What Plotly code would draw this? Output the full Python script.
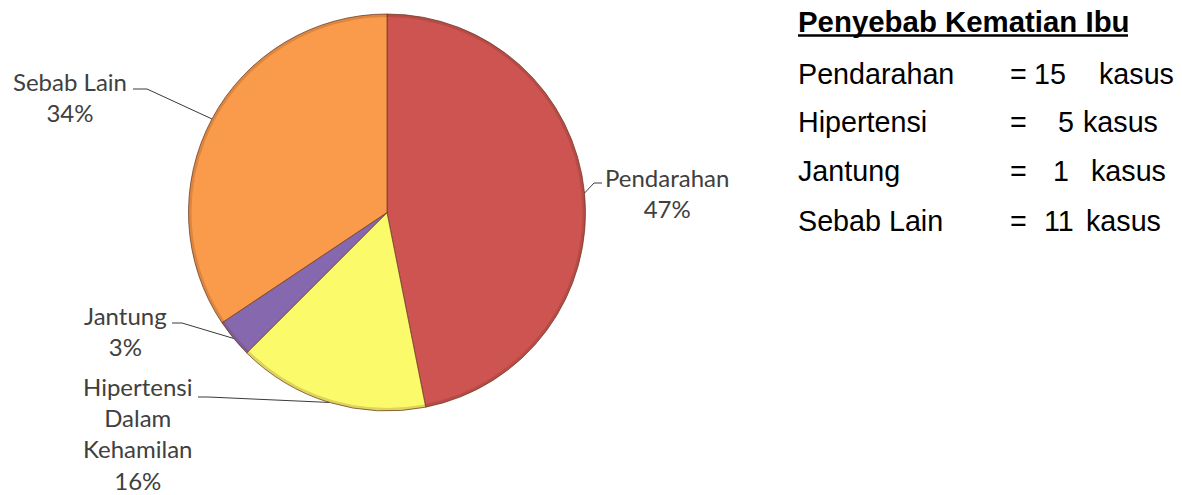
import math
import plotly.graph_objects as go

# ---------------- data ----------------
categories = ["Pendarahan", "Hipertensi Dalam Kehamilan", "Jantung", "Sebab Lain"]
label_text = ["Pendarahan", "Hipertensi<br>Dalam<br>Kehamilan", "Jantung", "Sebab Lain"]
short_names = ["Pendarahan", "Hipertensi", "Jantung", "Sebab Lain"]
kasus = [15, 5, 1, 11]
title_text = "Penyebab Kematian Ibu"
unit_text = "kasus"

# ---------------- styling / layout ----------------
colors = ["#CD5451", "#FAFA6B", "#8568AE", "#F99B4A"]
W, H = 1182, 495


def px(x):
    return x / W


def py(y):
    return 1 - y / H


PIE_L, PIE_R, PIE_T, PIE_B = 187, 587, 14, 411
cx = (PIE_L + PIE_R) / 2
cy = (PIE_T + PIE_B) / 2
rad = min(PIE_R - PIE_L, PIE_B - PIE_T) / 2

# label block centres, elbow and end of leader lines (pixels)
label_pos = [(667, 193.5), (137.5, 433), (125.5, 331), (69.5, 96.5)]
elbows = [(594, 183), (208, 397), (182, 323), (147, 89)]
ends = [(602, 183), (198, 397), (172, 323), (133, 89)]

# right-hand list layout
row_y = [74, 122, 171, 221]
name_x = 797
eq_x = 1009
num_x = [1033, 1057, 1052, 1043]
unit_x = [1098, 1082, 1090, 1085]

fig = go.Figure()
fig.add_trace(go.Pie(
    labels=categories,
    values=kasus,
    sort=False,
    direction="clockwise",
    rotation=0,
    textinfo="none",
    hoverinfo="label+value+percent",
    marker=dict(colors=colors, line=dict(color="rgba(110,60,40,0.75)", width=1)),
    domain=dict(x=[px(PIE_L), px(PIE_R)], y=[py(PIE_B), py(PIE_T)]),
    showlegend=False,
))

annotations = []
shapes = []
total = sum(kasus)
cum = 0
label_font = dict(family="Lato", size=24, color="#404040")
for i, v in enumerate(kasus):
    mid = (cum + v / 2) / total * 2 * math.pi
    cum += v
    ax = cx + rad * math.sin(mid)
    ay = cy - rad * math.cos(mid)
    pct = round(v / total * 100)
    lx, ly = label_pos[i]
    annotations.append(dict(
        x=px(lx), y=py(ly), xref="paper", yref="paper",
        text=f"{label_text[i]}<br>{pct}%", showarrow=False,
        xanchor="center", yanchor="middle", align="center",
        font=label_font,
    ))
    ex, ey = elbows[i]
    tx, ty = ends[i]
    shapes.append(dict(type="line", xref="paper", yref="paper",
                       x0=px(ax), y0=py(ay), x1=px(ex), y1=py(ey),
                       line=dict(color="#3a3a3a", width=1)))
    shapes.append(dict(type="line", xref="paper", yref="paper",
                       x0=px(ex), y0=py(ey), x1=px(tx), y1=py(ty),
                       line=dict(color="#3a3a3a", width=1)))

# subtle bevel rim around the pie
shapes.append(dict(type="circle", xref="paper", yref="paper",
                   x0=px(cx - rad + 1.5), x1=px(cx + rad - 1.5),
                   y0=py(cy + rad - 1.5), y1=py(cy - rad + 1.5),
                   line=dict(color="rgba(90,40,20,0.18)", width=3)))

# right-hand list
list_font = dict(family="Liberation Sans, Arial", size=28.7, color="#000000")
annotations.append(dict(
    x=px(name_x), y=py(21), xref="paper", yref="paper",
    text=f"<b>{title_text}</b>", showarrow=False,
    xanchor="left", yanchor="middle", borderpad=0,
    font=dict(family="Liberation Sans, Arial", size=29.4, color="#000000"),
))
shapes.append(dict(type="line", xref="paper", yref="paper",
                   x0=px(name_x + 1), x1=px(1128), y0=py(35.5), y1=py(35.5),
                   line=dict(color="#000000", width=2.5)))

for i, v in enumerate(kasus):
    yy = py(row_y[i])
    for xx, txt in [(name_x, short_names[i]), (eq_x, "="), (num_x[i], str(v)), (unit_x[i], unit_text)]:
        annotations.append(dict(
            x=px(xx), y=yy, xref="paper", yref="paper", text=txt,
            showarrow=False, xanchor="left", yanchor="middle", borderpad=0,
            font=list_font,
        ))

fig.update_layout(
    width=W, height=H,
    margin=dict(l=0, r=0, t=0, b=0),
    paper_bgcolor="white", plot_bgcolor="white",
    annotations=annotations, shapes=shapes,
)

fig.write_html("out.html")
